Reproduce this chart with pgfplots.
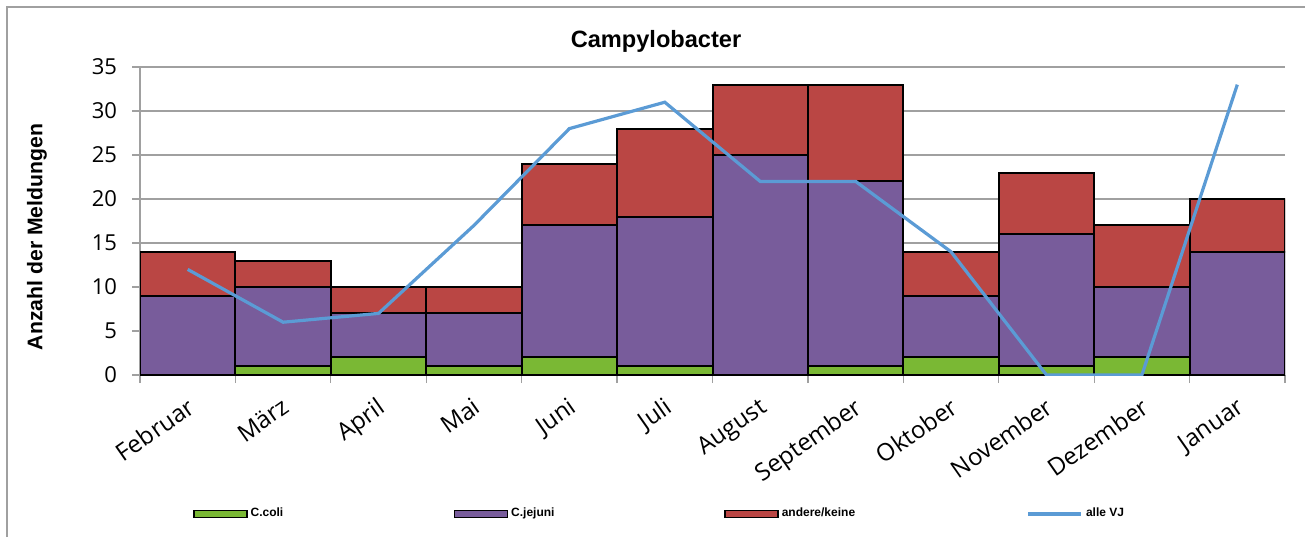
\documentclass[border=0pt]{standalone}
\usepackage{pgfplots}
\pgfplotsset{compat=1.18}
\usepackage{pgfplotstable}
\usepackage{fontspec}
\setmainfont{Open Sans}
\newfontfamily\arialfont{Liberation Sans}
\definecolor{ccoli}{RGB}{122,184,52}
\definecolor{cjej}{RGB}{120,92,155}
\definecolor{cand}{RGB}{186,70,68}
\definecolor{cline}{RGB}{91,155,213}
\definecolor{gridc}{RGB}{160,160,160}

\pgfplotstableread{
x coli jejuni andere vj
0 0 9 5 12
1 1 9 3 6
2 2 5 3 7
3 1 6 3 17
4 2 15 7 28
5 1 17 10 31
6 0 25 8 22
7 1 21 11 22
8 2 7 5 14
9 1 15 7 0
10 2 8 7 0
11 0 14 6 33
}\data

\begin{document}
\begin{tikzpicture}[x=1pt,y=1pt]
\useasboundingbox (0,0) rectangle (652.5,268.5);
\draw[gridc, line width=0.8pt] (3.5,0) -- (3.5,265) -- (652.5,265);
\pgfplotsset{commonax/.style={
  scale only axis, width=572.5pt, height=154pt,
  at={(70pt,81pt)}, anchor=south west,
  xmin=-0.5, xmax=11.5, ymin=0, ymax=35,
}}
\begin{axis}[commonax,
  ybar stacked, bar width=1,
  axis lines*=left,
  axis line style={gridc, line width=0.8pt},
  tick align=outside, major tick length=4pt,
  tick style={gridc, line width=0.6pt},
  ytick={0,5,...,35},
  ymajorgrids, grid style={gridc, line width=0.6pt},
  yticklabel style={font=\fontsize{11}{13}\selectfont, xshift=-4pt},
  /pgf/number format/assume math mode=true,
  xtick={-0.5,0.5,...,11.5}, xticklabels={},
  extra x ticks={0,...,11},
  extra x tick labels={Februar,März,April,Mai,Juni,Juli,August,September,Oktober,November,Dezember,Januar},
  extra x tick style={major tick length=0pt, tick style={draw=none},
    xticklabel style={xshift=-1pt, yshift=-10.5pt, rotate=35, anchor=north east, inner sep=0pt,
      font=\fontsize{12}{14}\selectfont}},
  legend style={at={(0.0463,-0.451)}, anchor=west, draw=none, fill=none,
    inner sep=0pt, outer sep=0pt, column sep=0pt,
    font=\arialfont\bfseries\fontsize{6}{7}\selectfont,
    nodes={inner sep=0pt}},
  legend columns=4,
]
\addplot[fill=ccoli, draw=black, line width=1pt,
  legend image code/.code={\draw[fill=ccoli, draw=black, line width=0.8pt] (0pt,-1.75pt) rectangle (26.5pt,1.75pt);}]
  table[x=x,y=coli]{\data};
\addplot[fill=cjej, draw=black, line width=1pt,
  legend image code/.code={\draw[fill=cjej, draw=black, line width=0.8pt] (0pt,-1.75pt) rectangle (26.5pt,1.75pt);}]
  table[x=x,y=jejuni]{\data};
\addplot[fill=cand, draw=black, line width=1pt,
  legend image code/.code={\draw[fill=cand, draw=black, line width=0.8pt] (0pt,-1.75pt) rectangle (26.5pt,1.75pt);}]
  table[x=x,y=andere]{\data};
\addlegendimage{cline, line width=1.6pt, legend image code/.code={\draw[cline, line width=1.6pt] (0pt,0pt) -- (26.5pt,0pt);}}
\addlegendentry{\makebox[103pt][l]{\hspace{1.5pt}C.coli}}
\addlegendentry{\makebox[108pt][l]{\hspace{1.5pt}C.jejuni}}
\addlegendentry{\makebox[124pt][l]{\hspace{1.5pt}andere/keine}}
\addlegendentry{\hspace{1.5pt}alle VJ}
\end{axis}
\begin{axis}[commonax, hide axis]
\addplot[cline, line width=1.6pt, no markers, sharp plot] table[x=x,y=vj]{\data};
\end{axis}
\node[font=\arialfont\bfseries\fontsize{11.8}{14}\selectfont] at (328,248) {Campylobacter};
\node[font=\arialfont\bfseries\fontsize{10.6}{12}\selectfont, rotate=90] at (18.5,150) {Anzahl der Meldungen};
\end{tikzpicture}
\end{document}
